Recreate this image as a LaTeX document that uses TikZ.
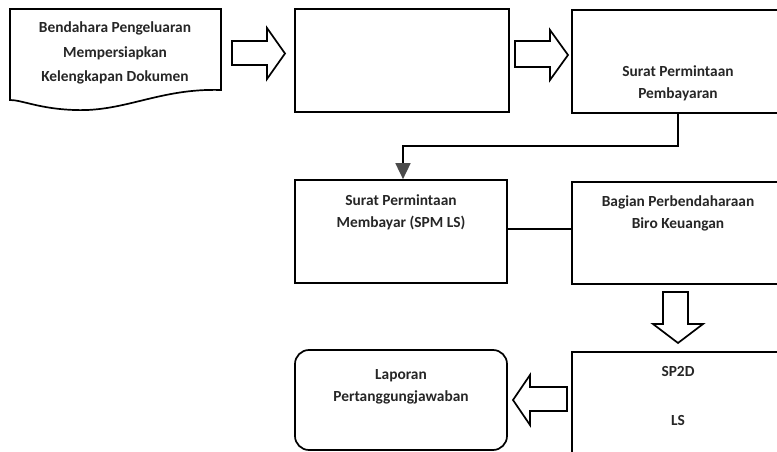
\documentclass[tikz,border=0pt]{standalone}
\usepackage{fontspec}
\setmainfont{Carlito}
\usetikzlibrary{arrows.meta}
\begin{document}
\begin{tikzpicture}[x=1pt,y=-1pt,
  box/.style={draw, line width=1.7pt, minimum width=212pt, minimum height=103pt, inner sep=0pt},
  lbl/.style={font=\fontsize{15.4}{22}\selectfont\bfseries, align=center, text=black!85, inner sep=0pt},
  blockarrow/.style={draw, line width=1.7pt, fill=white, line join=miter},
  conn/.style={draw, line width=1.7pt},
  tip/.style={-{Triangle[length=16pt,width=15pt,color=black!70]}}]
\useasboundingbox (0,0) rectangle (777,452);
\clip (0,0) rectangle (777,452);
% document shape
\draw[line width=1.7pt] (10,9) -- (221,9) -- (221,90)
  .. controls (160,88) and (125,112) .. (75,110)
  .. controls (40,109) and (22,100) .. (10,100) -- cycle;
\node[lbl, font=\fontsize{15.4}{24.5}\selectfont\bfseries] (t1) at (115,53) {Bendahara Pengeluaran\\Mempersiapkan\\Kelengkapan Dokumen};
% boxes
\node[box, minimum width=214pt] (b2) at (402,60.5) {};
\node[box] (b3) at (678,61.5) {};
\node[box] (b4) at (401,231.5) {};
\node[box, minimum height=102pt] (b5) at (678,233) {};
\node[box] (b6) at (678,403.5) {};
\node[box, rounded corners=14pt, minimum height=100pt] (b7) at (401,400) {};
% texts
\node[lbl] (t3) at (678,83) {Surat Permintaan\\Pembayaran};
\node[lbl] (t4) at (401,212.5) {Surat Permintaan\\Membayar (SPM LS)};
\node[lbl] (t5) at (678,213.5) {Bagian Perbendaharaan\\Biro Keuangan};
\node[lbl] (t6a) at (678,372) {SP2D};
\node[lbl] (t6b) at (678,421) {LS};
\node[lbl] (t7) at (401,386.5) {Laporan\\Pertanggungjawaban};
% block arrows
\draw[blockarrow] (232,41) -- (267,41) -- (267,28) -- (285,53.5) -- (267,79) -- (267,65) -- (232,65) -- cycle;
\draw[blockarrow] (515,41) -- (550,41) -- (550,30) -- (568,55) -- (550,80) -- (550,67) -- (515,67) -- cycle;
\draw[blockarrow] (663,292) -- (688,292) -- (688,324) -- (703,324) -- (678,343) -- (653,324) -- (663,324) -- cycle;
\draw[blockarrow] (567,387) -- (530,387) -- (530,375) -- (513,400) -- (530,425) -- (530,411) -- (567,411) -- cycle;
% connectors
\coordinate (in4) at ([xshift=2pt]b4.north);
\draw[conn, tip] (b3.south) |- ([yshift=33pt]in4) -- (in4);
\coordinate (out4) at ([yshift=2.5pt]b4.east);
\draw[conn] (out4) -- (b5.west |- out4);
\end{tikzpicture}
\end{document}
